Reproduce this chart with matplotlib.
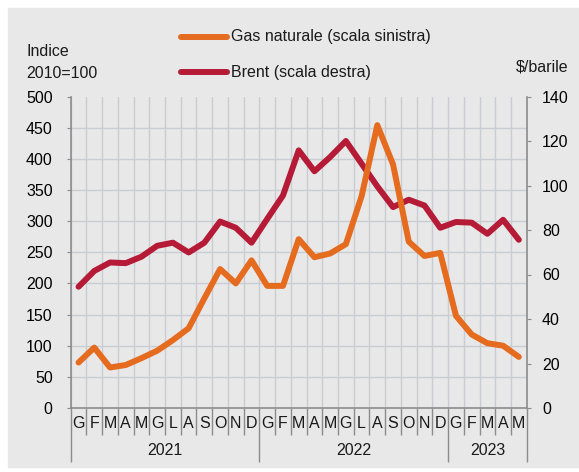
import matplotlib.pyplot as plt
import numpy as np
from matplotlib.lines import Line2D
from matplotlib.patches import Rectangle

plt.rcParams['font.family'] = ['Liberation Sans', 'DejaVu Sans']
plt.rcParams['font.size'] = 11.5
plt.rcParams['text.color'] = '#1a1a1a'

# Monthly data, Jan 2021 - May 2023
months = ['G', 'F', 'M', 'A', 'M', 'G', 'L', 'A', 'S', 'O', 'N', 'D',
          'G', 'F', 'M', 'A', 'M', 'G', 'L', 'A', 'S', 'O', 'N', 'D',
          'G', 'F', 'M', 'A', 'M']
years = ['2021', '2022', '2023']
year_counts = [12, 12, 5]

gas = [73, 97, 65, 69, 80, 92, 109, 128, 176, 223, 200, 237,
       196, 196, 271, 242, 248, 263, 340, 454, 391, 267, 244, 249,
       148, 118, 104, 100, 82]
brent = [54.5, 61.6, 65.4, 65.1, 68, 72.9, 74.3, 69.9, 74.3, 83.8, 81, 74.3,
         85, 95.5, 115.8, 106.4, 112.8, 120, 109.8, 99.6, 90.3, 93.6, 91, 81,
         83.6, 83.3, 78.3, 84.6, 75.6]

gas_label = 'Gas naturale (scala sinistra)'
brent_label = 'Brent (scala destra)'

ORANGE = '#e56b1f'
RED = '#b51a36'
BG = '#e8e8e8'
GRID = '#c9cdd1'
AXIS = '#8c8c8c'

W, H = 579, 472
fig = plt.figure(figsize=(W / 100, H / 100), dpi=100, facecolor='white')
fig.patches.append(Rectangle((8 / W, 5 / H), 1 - 8 / W, 459 / H,
                             transform=fig.transFigure, color=BG, zorder=-10))

# Brent axes at the bottom (holds background grid), gas twin on top
ax_b = fig.add_axes([70.7 / W, 64 / H, 456 / W, 311.5 / H])
ax_b.set_facecolor(BG)
ax_g = ax_b.twinx()

x = np.arange(len(months))
ax_b.set_xlim(-0.5, len(months) - 0.5)
ax_b.set_ylim(0, 140)
ax_g.set_ylim(0, 500)

ax_b.plot(x, brent, color=RED, lw=4.3, solid_joinstyle='round',
          solid_capstyle='round', zorder=3)
ax_g.plot(x, gas, color=ORANGE, lw=4.3, solid_joinstyle='round',
          solid_capstyle='round', zorder=3)

# x ticks at month / year boundaries
bounds = np.concatenate([[0], np.cumsum(year_counts)]) - 0.5
ax_b.set_xticks(bounds)
ax_b.set_xticks(np.arange(-0.5, len(months)), minor=True)
ax_b.tick_params(axis='x', which='major', length=38.9, color=AXIS,
                 width=1, labelbottom=False)
ax_b.tick_params(axis='x', which='minor', length=19.4, color=AXIS,
                 width=1, labelbottom=False)
ax_b.grid(axis='x', which='both', color=GRID, lw=1)

# right scale (Brent)
ax_b.yaxis.tick_right()
ax_b.yaxis.set_label_position('right')
ax_b.set_yticks(np.arange(0, 141, 20))
ax_b.set_yticks(np.arange(0, 141, 14), minor=True)
ax_b.tick_params(axis='y', which='major', direction='out', length=3,
                 color=AXIS, pad=8, left=False, labelleft=False,
                 right=True, labelright=True)
ax_b.tick_params(axis='y', which='minor', length=0)
ax_b.grid(axis='y', which='minor', color=GRID, lw=1)
ax_b.grid(axis='y', which='major', visible=False)

for s in ['left', 'right', 'bottom']:
    ax_b.spines[s].set_color(AXIS)
    ax_b.spines[s].set_linewidth(1.2)
ax_b.spines['top'].set_visible(False)

# left scale (gas)
ax_g.yaxis.tick_left()
ax_g.yaxis.set_label_position('left')
ax_g.set_yticks(np.arange(0, 501, 50))
ax_g.tick_params(axis='y', direction='out', length=3, color=AXIS, pad=10,
                 left=True, labelleft=True, right=False, labelright=False)
for s in ax_g.spines.values():
    s.set_visible(False)

# month and year labels
trans = ax_b.get_xaxis_transform()
for i, m in enumerate(months):
    ax_b.text(i, -0.051, m, transform=trans, ha='center', va='center')
start = 0
for y, n in zip(years, year_counts):
    ax_b.text(start + (n - 1) / 2, -0.138, y, transform=trans,
              ha='center', va='center')
    start += n

# axis titles
fig.text(26 / W, 1 - 52 / H, 'Indice', ha='left', va='center')
fig.text(26 / W, 1 - 73 / H, '2010=100', ha='left', va='center')
fig.text(568 / W, 1 - 66.7 / H, '$/barile', ha='right', va='center')

# legend
for yy, col, lab in [(36.7, ORANGE, gas_label), (72.3, RED, brent_label)]:
    fig.add_artist(Line2D([181 / W, 227 / W], [1 - yy / H, 1 - yy / H],
                          color=col, lw=4.3, solid_capstyle='round',
                          transform=fig.transFigure))
    fig.text(231 / W, 1 - yy / H, lab, ha='left', va='center')

fig.savefig('out.png', dpi=100)
